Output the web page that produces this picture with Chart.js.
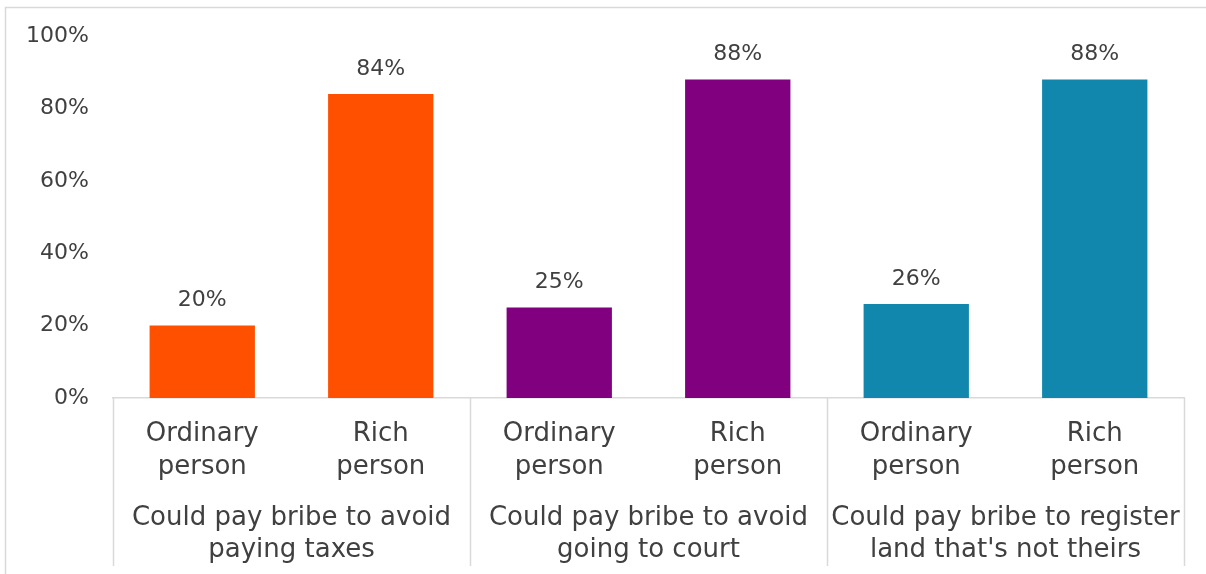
<!DOCTYPE html>
<html>
<head>
<meta charset="utf-8">
<script src="https://cdn.jsdelivr.net/npm/chart.js@4/dist/chart.umd.min.js"></script>
<style>
  html, body { margin: 0; padding: 0; background: #fff; }
  #wrap { position: relative; width: 1206px; height: 574px; }
</style>
</head>
<body>
<div id="wrap"><canvas id="bribeChart" width="1206" height="574"></canvas></div>
<script>
const personLabels = [
  ["Ordinary", "person"], ["Rich", "person"],
  ["Ordinary", "person"], ["Rich", "person"],
  ["Ordinary", "person"], ["Rich", "person"]
];
const groupLabels = [
  ["Could pay bribe to avoid", "paying taxes"],
  ["Could pay bribe to avoid", "going to court"],
  ["Could pay bribe to register", "land that's not theirs"]
];
const shares = [20, 84, 25, 88, 26, 88];
const barColors = ["#FF5000", "#FF5000", "#800080", "#800080", "#1287AE", "#1287AE"];
const yTicks = [0, 20, 40, 60, 80, 100];

const FONT = "'DejaVu Sans', sans-serif";
const TEXT = "#404040";
const LINE = "#d9d9d9";

// frame, group separators and value labels
const decorations = {
  id: "decorations",
  beforeDraw(chart) {
    const ctx = chart.ctx;
    ctx.save();
    ctx.strokeStyle = LINE;
    ctx.lineWidth = 1.5;
    ctx.beginPath();
    ctx.moveTo(5.5, chart.height);
    ctx.lineTo(5.5, 7.5);
    ctx.lineTo(chart.width, 7.5);
    ctx.stroke();
    ctx.restore();
  },
  afterDraw(chart) {
    const ctx = chart.ctx;
    const x = chart.scales.x;
    const area = chart.chartArea;
    const half = (x.getPixelForValue(1) - x.getPixelForValue(0)) / 2;
    ctx.save();
    ctx.strokeStyle = LINE;
    ctx.lineWidth = 1.5;
    for (let g = 0; g <= groupLabels.length; g++) {
      const px = Math.round(x.getPixelForValue(g * 2) - half) + 0.5;
      ctx.beginPath();
      ctx.moveTo(px, area.bottom);
      ctx.lineTo(px, chart.height - 8);
      ctx.stroke();
    }
    ctx.fillStyle = TEXT;
    ctx.font = "22px " + FONT;
    ctx.textAlign = "center";
    ctx.textBaseline = "middle";
    chart.getDatasetMeta(0).data.forEach((bar, i) => {
      ctx.fillText(shares[i] + "%", bar.x, bar.y - 25);
    });
    ctx.restore();
  }
};

new Chart(document.getElementById("bribeChart"), {
  type: "bar",
  data: {
    labels: personLabels,
    datasets: [{
      data: shares,
      backgroundColor: barColors,
      borderWidth: 0,
      categoryPercentage: 0.59,
      barPercentage: 1
    }]
  },
  options: {
    responsive: false,
    animation: false,
    events: [],
    layout: { padding: { left: 0, right: 22, top: 36, bottom: 0 } },
    plugins: { legend: { display: false }, tooltip: { enabled: false } },
    scales: {
      y: {
        min: 0,
        max: 100,
        afterBuildTicks(scale) { scale.ticks = yTicks.map(v => ({ value: v })); },
        afterFit(scale) { scale.width = 113; },
        grid: { display: false },
        border: { display: false },
        ticks: {
          padding: 16,
          color: TEXT,
          font: { family: FONT, size: 22 },
          callback: v => v + "%"
        }
      },
      x: {
        position: "bottom",
        afterFit(scale) { scale.height = 92; },
        grid: { display: false, drawTicks: false },
        border: { display: true, color: LINE, width: 1.5 },
        ticks: {
          padding: 20,
          autoSkip: false,
          maxRotation: 0,
          color: TEXT,
          font: { family: FONT, size: 26, lineHeight: 1.27 }
        }
      },
      x2: {
        type: "category",
        position: "bottom",
        labels: groupLabels,
        afterFit(scale) { scale.height = 84; },
        grid: { display: false, drawTicks: false },
        border: { display: false },
        ticks: {
          padding: 12,
          autoSkip: false,
          maxRotation: 0,
          color: TEXT,
          font: { family: FONT, size: 26, lineHeight: 1.23 }
        }
      }
    }
  },
  plugins: [decorations]
});
</script>
</body>
</html>
